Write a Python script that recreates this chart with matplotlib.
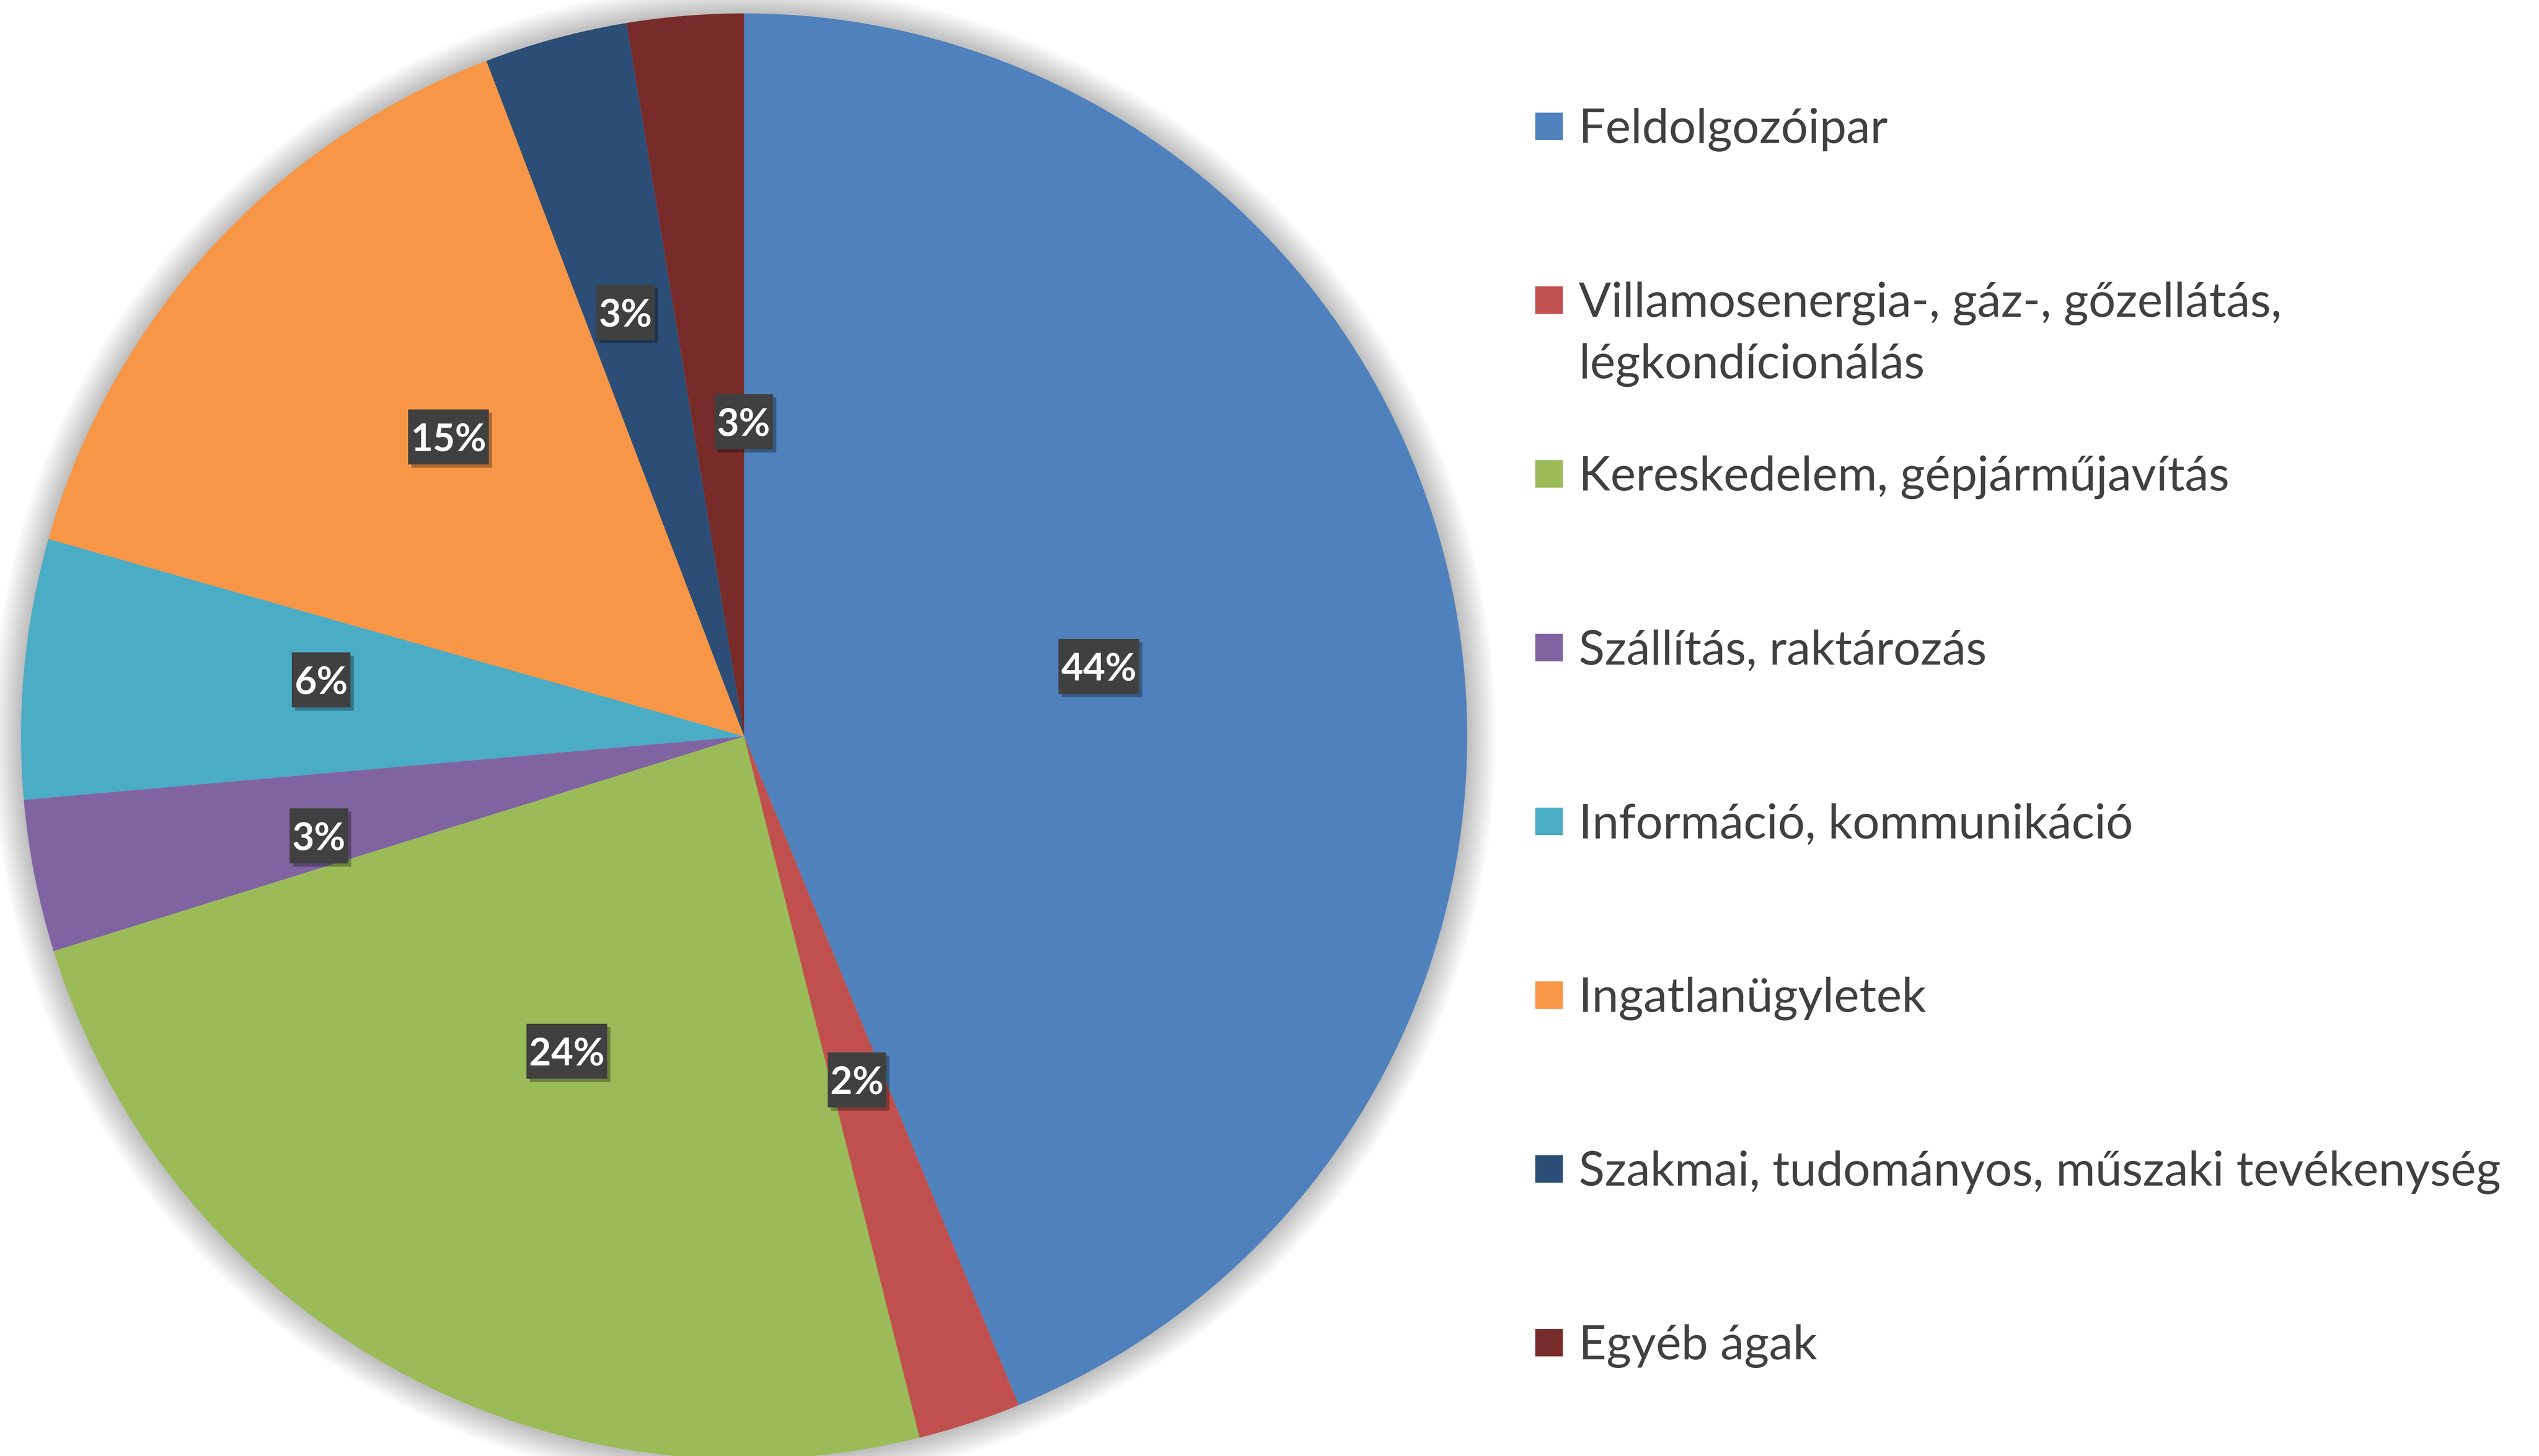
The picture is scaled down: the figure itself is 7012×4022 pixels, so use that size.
import matplotlib
matplotlib.use('Agg')
import matplotlib.pyplot as plt
from matplotlib.patches import Circle, Rectangle
from matplotlib.transforms import offset_copy
import matplotlib.patheffects as pe
import numpy as np

# ---- data ----
categories = [
    "Feldolgozóipar",
    "Villamosenergia-, gáz-, gőzellátás,\nlégkondícionálás",
    "Kereskedelem, gépjárműjavítás",
    "Szállítás, raktározás",
    "Információ, kommunikáció",
    "Ingatlanügyletek",
    "Szakmai, tudományos, műszaki tevékenység",
    "Egyéb ágak",
]
shares = [43.8, 2.3, 24.1, 3.4, 5.8, 14.8, 3.2, 2.6]
colors = ["#4F81BD", "#C0504D", "#9BBB59", "#8064A2",
          "#4BACC6", "#F79646", "#2C4D75", "#772C2A"]

# ---- layout (label placement relative to each wedge) ----
label_r = [0.50, 0.50, 0.50, 0.604, 0.59, 0.582, 0.609, 0.435]
label_dth = [0.0, 0.0, 0.0, 2.0, -2.2, -2.9, 0.5, -4.6]
FONT = ['Lato', 'DejaVu Sans']
W, H = 7012, 4023
DPI = 400
fig = plt.figure(figsize=(W / DPI, H / DPI), dpi=DPI)
fig.patch.set_facecolor('white')

cx, cy, R = 2055, 2035, 1997
lim = 1.08
ax = fig.add_axes([(cx - R * lim) / W, 1 - (cy + R * lim) / H,
                   2 * R * lim / W, 2 * R * lim / H])

# soft shadow around pie
for i in range(16):
    ax.add_patch(Circle((0, 0), 1 + 0.0025 * (i + 1), facecolor='black',
                        alpha=0.016, lw=0, zorder=0))

LBL_FS = 19
wedges, texts, autotexts = ax.pie(
    shares, colors=colors, startangle=90, counterclock=False, radius=1,
    autopct='%.0f%%', pctdistance=0.5,
    wedgeprops=dict(linewidth=0, zorder=1),
    textprops=dict(color='white', fontsize=LBL_FS, fontweight='bold',
                   family=FONT))

ax.set_xlim(-lim, lim)
ax.set_ylim(-lim, lim)
ax.set_aspect('equal')
ax.axis('off')

cap_pt = 0.72 * LBL_FS
txt_tr = offset_copy(ax.transData, fig=fig, x=0, y=-cap_pt / 2, units='points')
centers = []
for w, t, r, dth in zip(wedges, autotexts, label_r, label_dth):
    th = np.deg2rad((w.theta1 + w.theta2) / 2 + dth)
    x, y = r * np.cos(th), r * np.sin(th)
    centers.append((x, y))
    t.set_position((x, y))
    t.set_transform(txt_tr)
    t.set_ha('center'); t.set_va('baseline')
    t.set_zorder(6)

fig.canvas.draw()
renderer = fig.canvas.get_renderer()
px_per_unit = R  # axes box is square: 2*R*lim px for 2*lim units
box_h = 152 / px_per_unit
for (x, y), t in zip(centers, autotexts):
    ext = t.get_window_extent(renderer)
    bw = (ext.width + 14) / px_per_unit
    rect = Rectangle((x - bw / 2, y - box_h / 2), bw, box_h,
                     facecolor='#404040', edgecolor='none', zorder=5)
    rect.set_path_effects([pe.SimplePatchShadow(offset=(1.6, -1.6),
                                                alpha=0.3, shadow_rgbFace='black'),
                           pe.Normal()])
    ax.add_patch(rect)

# ---- legend (manual) ----
y0, step = 350, 480
sq = 76
mx0 = 4240
tx = 4360
line_gap = 170
for i, (lab, col) in enumerate(zip(categories, colors)):
    yc = y0 + i * step
    fig.patches.append(Rectangle((mx0 / W, 1 - (yc + sq / 2) / H), sq / W, sq / H,
                                 transform=fig.transFigure, facecolor=col,
                                 edgecolor='none'))
    for j, line in enumerate(lab.split('\n')):
        fig.text(tx / W, 1 - (yc + 45 + j * line_gap) / H, line, ha='left',
                 va='baseline', fontsize=23.8, color='#404040', family=FONT)

fig.savefig('out.png', dpi=DPI, facecolor='white')
